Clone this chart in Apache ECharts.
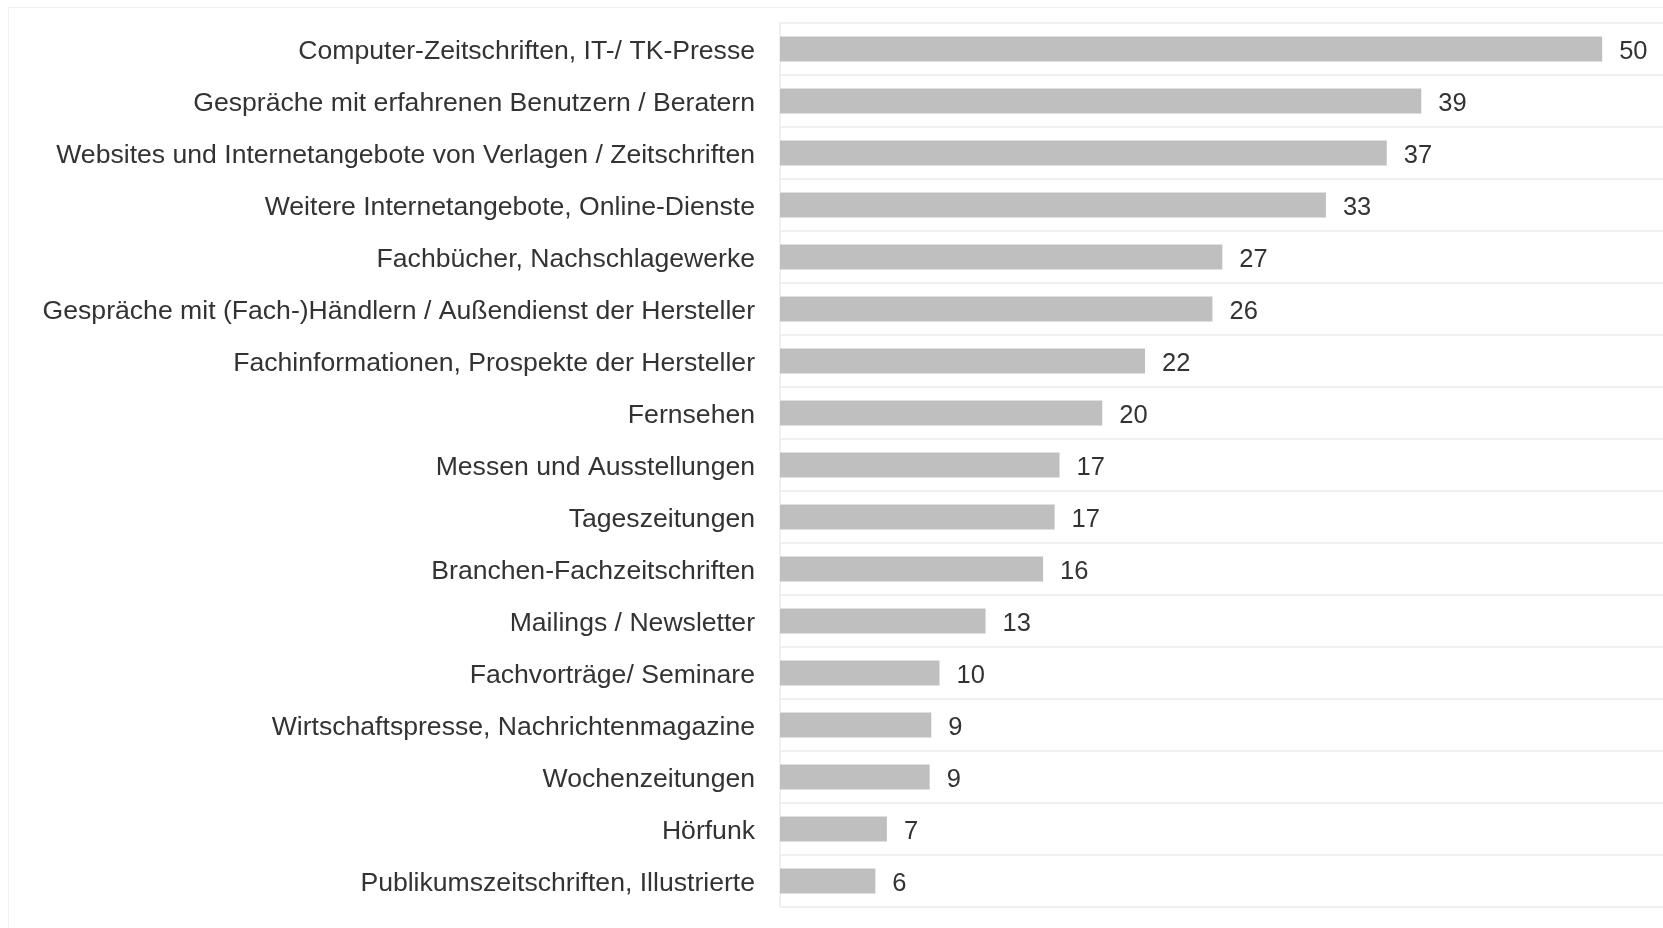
<!DOCTYPE html>
<html>
<head>
<meta charset="utf-8">
<script src="https://cdn.jsdelivr.net/npm/echarts@6/dist/echarts.min.js"></script>
<style>
html,body{margin:0;padding:0;background:#fff;}
#frame{position:absolute;left:8px;top:7px;width:1700px;height:1000px;border:1px solid #f0f0f0;box-sizing:border-box;}
#chart{position:absolute;left:0;top:0;width:1663px;height:928px;}
</style>
</head>
<body>
<div id="frame"></div>
<div id="chart"></div>
<script>
const categories = [
  "Computer-Zeitschriften, IT-/ TK-Presse",
  "Gespräche mit erfahrenen Benutzern / Beratern",
  "Websites und Internetangebote von Verlagen / Zeitschriften",
  "Weitere Internetangebote, Online-Dienste",
  "Fachbücher, Nachschlagewerke",
  "Gespräche mit (Fach-)Händlern / Außendienst der Hersteller",
  "Fachinformationen, Prospekte der Hersteller",
  "Fernsehen",
  "Messen und Ausstellungen",
  "Tageszeitungen",
  "Branchen-Fachzeitschriften",
  "Mailings / Newsletter",
  "Fachvorträge/ Seminare",
  "Wirtschaftspresse, Nachrichtenmagazine",
  "Wochenzeitungen",
  "Hörfunk",
  "Publikumszeitschriften, Illustrierte"
];
const values = [50, 39, 36.9, 33.2, 26.9, 26.3, 22.2, 19.6, 17, 16.7, 16, 12.5, 9.7, 9.2, 9.1, 6.5, 5.8];
const valueLabels = ["50", "39", "37", "33", "27", "26", "22", "20", "17", "17", "16", "13", "10", "9", "9", "7", "6"];

const FONT = 'Liberation Sans, Arial, sans-serif';
const chart = echarts.init(document.getElementById('chart'), null, {renderer: 'canvas'});
chart.setOption({
  backgroundColor: 'transparent',
  animation: false,
  grid: {left: 780, right: 0, top: 23, bottom: 21, containLabel: false},
  xAxis: {
    type: 'value', min: 0, max: 53.7,
    axisLabel: {show: false}, axisTick: {show: false}, axisLine: {show: false},
    splitLine: {show: false}
  },
  yAxis: {
    type: 'category', data: categories, inverse: true,
    axisTick: {show: false},
    axisLine: {show: true, lineStyle: {color: '#ebebeb', width: 1.5}},
    splitLine: {show: true, lineStyle: {color: '#ebebeb', width: 1.5}},
    axisLabel: {
      margin: 25,
      formatter: v => '{a|' + v + '}',
      rich: {
        a: {color: '#333', fontFamily: FONT, fontSize: 26.6, padding: [6, 0, 0, 0]}
      }
    }
  },
  series: [{
    type: 'bar', data: values, barWidth: 25,
    itemStyle: {color: '#bfbfbf'},
    label: {
      show: true, position: 'right', distance: 17, offset: [0, 3],
      color: '#333', fontFamily: FONT, fontSize: 25.5,
      formatter: p => valueLabels[p.dataIndex]
    }
  }]
});
</script>
</body>
</html>
